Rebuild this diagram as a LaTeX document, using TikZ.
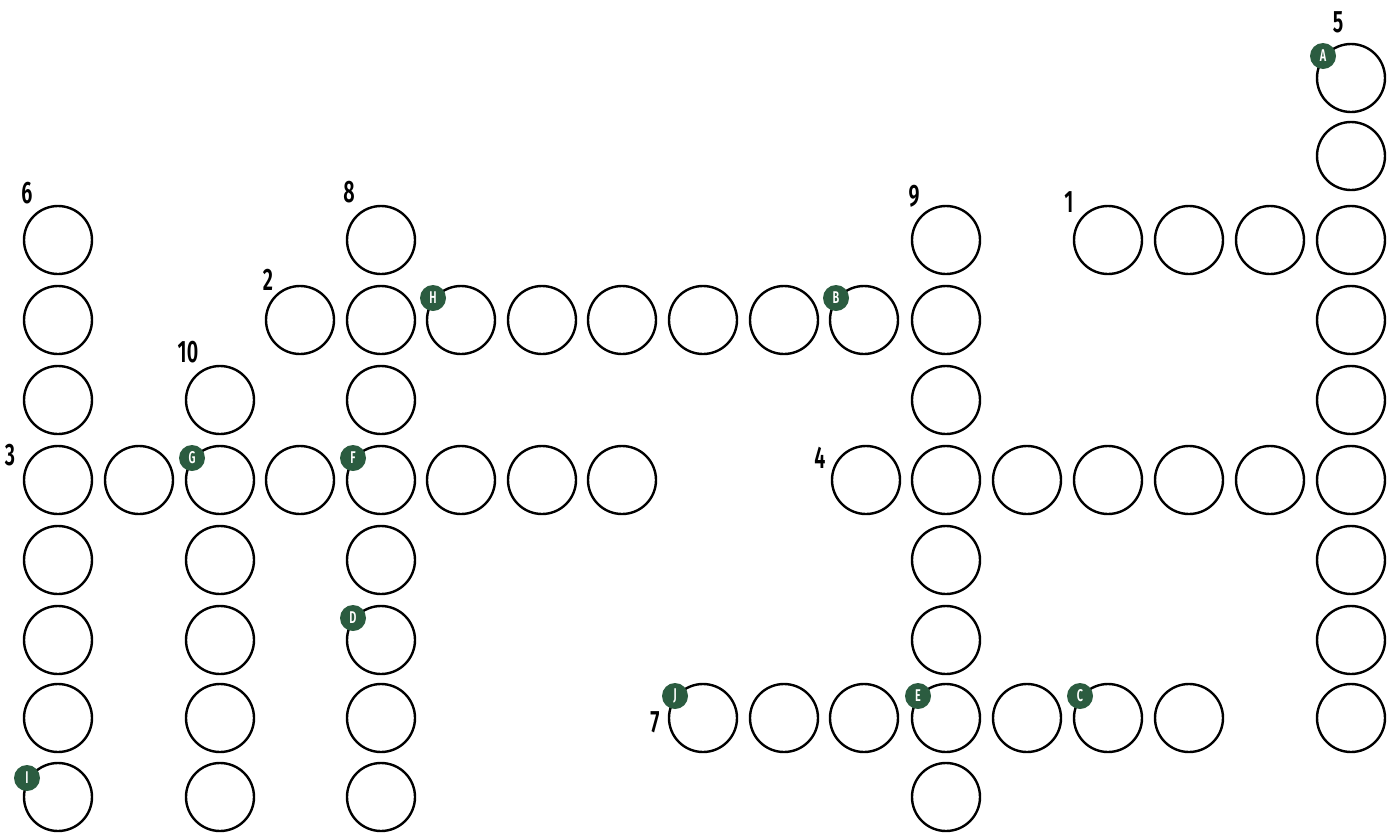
\documentclass[tikz,border=0pt]{standalone}
\usepackage{fontspec}
\newfontfamily\numfont[FakeStretch=0.64]{Fira Sans SemiBold}
\newfontfamily\badgefont[FakeStretch=0.64]{Fira Sans SemiBold}
\definecolor{badgegreen}{HTML}{2B5C40}
\begin{document}
\begin{tikzpicture}[x=1pt,y=-1pt,
  cell/.style={circle,draw=black,line width=2.4pt,minimum size=68pt,inner sep=0pt},
  badge/.style={circle,fill=badgegreen,text=white,minimum size=26pt,inner sep=0pt,font=\badgefont\fontsize{17}{17}\selectfont},
  num/.style={inner sep=0pt,font=\numfont\fontsize{31}{31}\selectfont}]
\useasboundingbox (0,0) rectangle (1393,833);
\foreach \n/\x/\y in {
  c17-0/1351/78, c17-1/1351/156,
  c1-2/58/240, c5-2/381/240, c12-2/946/240, c14-2/1108/240, c15-2/1189/240, c16-2/1270/240, c17-2/1351/240,
  c1-3/58/320, c4-3/300/320, c5-3/381/320, c6-3/461/320, c7-3/542/320, c8-3/622/320, c9-3/703/320, c10-3/784/320, c11-3/864/320, c12-3/946/320, c17-3/1351/320,
  c1-4/58/400, c3-4/220/400, c5-4/381/400, c12-4/946/400, c17-4/1351/400,
  c1-5/58/480, c2-5/139/480, c3-5/220/480, c4-5/300/480, c5-5/381/480, c6-5/461/480, c7-5/542/480, c8-5/622/480,
  c11-5/866/480, c12-5/946/480, c13-5/1027/480, c14-5/1108/480, c15-5/1189/480, c16-5/1270/480, c17-5/1351/480,
  c1-6/58/560, c3-6/220/560, c5-6/381/560, c12-6/946/560, c17-6/1351/560,
  c1-7/58/640, c3-7/220/640, c5-7/381/640, c12-7/946/640, c17-7/1351/640,
  c1-8/58/718, c3-8/220/718, c5-8/381/718, c9-8/703/718, c10-8/784/718, c11-8/864/718, c12-8/946/718, c13-8/1027/718, c14-8/1108/718, c15-8/1189/718, c17-8/1351/718,
  c1-9/58/797, c3-9/220/797, c5-9/381/797, c12-9/946/797}
  \node[cell] (\n) at (\x,\y) {};
% badges
\foreach \b/\c in {A/c17-0, B/c11-3, C/c14-8, D/c5-7, E/c12-8, F/c5-5, G/c3-5, H/c6-3, J/c9-8}
  \node[badge] (b\b) at ([shift={(-28,-22)}]\c.center) {\b};
\node[badge] (bI) at ([shift={(-31,-19)}]c1-9.center) {I};
% numbers
\node[num] (n6) at ([shift={(-31,-47)}]c1-2.center) {6};
\node[num] (n8) at ([shift={(-32,-48)}]c5-2.center) {8};
\node[num] (n5) at ([shift={(-13,-56)}]c17-0.center) {5};
\node[num] (n1) at ([shift={(-39,-38)}]c14-2.center) {1};
\node[num] (n2) at ([shift={(-32,-40)}]c4-3.center) {2};
\node[num] (n10) at ([shift={(-32,-48)}]c3-4.center) {10};
\node[num] (n9) at ([shift={(-32,-44)}]c12-2.center) {9};
\node[num] (n3) at ([shift={(-48,-25)}]c1-5.center) {3};
\node[num] (n4) at ([shift={(-46,-22)}]c11-5.center) {4};
\node[num] (n7) at ([shift={(-48,4)}]c9-8.center) {7};
\end{tikzpicture}
\end{document}
